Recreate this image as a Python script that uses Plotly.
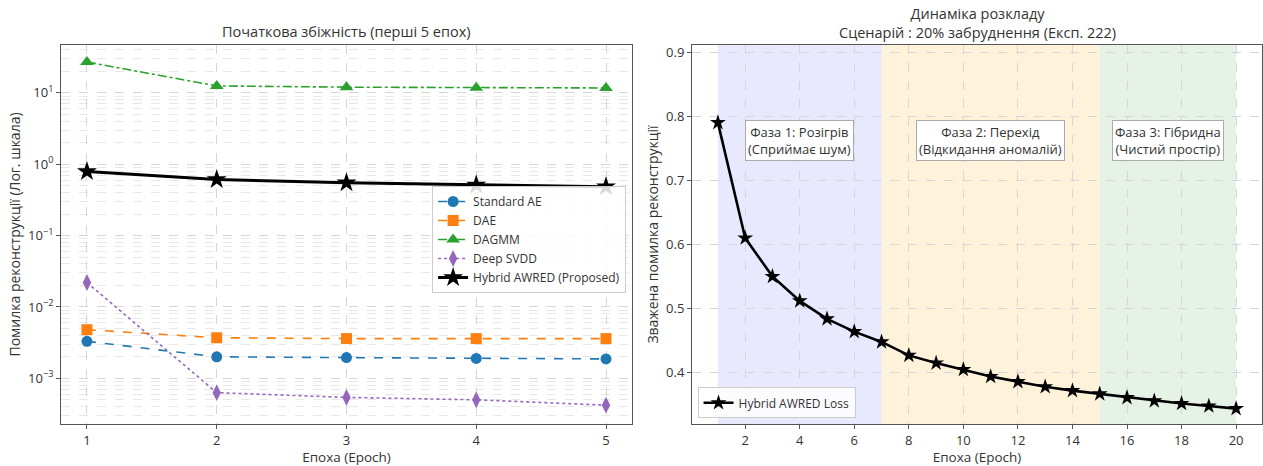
import plotly.graph_objects as go

# ---------- data ----------
epochs_short = [1, 2, 3, 4, 5]
standard_ae = [0.0033, 0.00200, 0.00195, 0.00190, 0.00187]
dae = [0.0048, 0.0037, 0.0036, 0.0036, 0.0036]
dagmm = [27.0, 12.5, 12.0, 11.8, 11.7]
deep_svdd = [0.022, 0.00063, 0.00054, 0.00050, 0.00042]
hybrid_short = [0.79, 0.61, 0.55, 0.512, 0.485]

epochs_long = list(range(1, 21))
hybrid_loss = [0.790, 0.610, 0.550, 0.512, 0.484, 0.464, 0.448, 0.427, 0.415, 0.405,
               0.394, 0.386, 0.378, 0.372, 0.367, 0.361, 0.356, 0.352, 0.348, 0.344]

phase_bounds = [(1, 7), (7, 15), (15, 20)]
phase_colors = ["rgba(0,0,255,0.09)", "rgba(255,165,0,0.14)", "rgba(0,128,0,0.10)"]
phase_labels = ["Фаза 1: Розігрів<br>(Сприймає шум)",
                "Фаза 2: Перехід<br>(Відкидання аномалій)",
                "Фаза 3: Гібридна<br>(Чистий простір)"]
phase_label_x = [4, 11, 17.5]
phase_label_y = 0.762

log_tickvals = [1e-3, 1e-2, 1e-1, 1, 10]
log_ticktext = ["10<sup>−3</sup>", "10<sup>−2</sup>", "10<sup>−1</sup>", "10<sup>0</sup>", "10<sup>1</sup>"]

FONT = "Open Sans"
TXT = "#333333"

fig = go.Figure()

# ---------- left chart ----------
fig.add_trace(go.Scatter(x=epochs_short, y=standard_ae, name="Standard AE", mode="lines+markers",
                         line=dict(color="#1f77b4", dash="dash", width=1.6),
                         marker=dict(symbol="circle", size=11, color="#1f77b4"),
                         xaxis="x", yaxis="y", legend="legend"))
fig.add_trace(go.Scatter(x=epochs_short, y=dae, name="DAE", mode="lines+markers",
                         line=dict(color="#ff7f0e", dash="dash", width=1.6),
                         marker=dict(symbol="square", size=11, color="#ff7f0e"),
                         xaxis="x", yaxis="y", legend="legend"))
fig.add_trace(go.Scatter(x=epochs_short, y=dagmm, name="DAGMM", mode="lines+markers",
                         line=dict(color="#2ca02c", dash="dashdot", width=1.6),
                         marker=dict(symbol="triangle-up", size=12, color="#2ca02c"),
                         xaxis="x", yaxis="y", legend="legend"))
fig.add_trace(go.Scatter(x=epochs_short, y=deep_svdd, name="Deep SVDD", mode="lines+markers",
                         line=dict(color="#9467bd", dash="dot", width=1.6),
                         marker=dict(symbol="diamond-tall", size=12, color="#9467bd"),
                         xaxis="x", yaxis="y", legend="legend"))
fig.add_trace(go.Scatter(x=epochs_short, y=hybrid_short, name="Hybrid AWRED (Proposed)", mode="lines+markers",
                         line=dict(color="black", width=3),
                         marker=dict(symbol="star", size=15, color="black"),
                         xaxis="x", yaxis="y", legend="legend"))

# ---------- right chart ----------
fig.add_trace(go.Scatter(x=epochs_long, y=hybrid_loss, name="Hybrid AWRED Loss", mode="lines+markers",
                         line=dict(color="black", width=2.6),
                         marker=dict(symbol="star", size=12, color="black"),
                         xaxis="x2", yaxis="y2", legend="legend2"))

for (x0, x1), col in zip(phase_bounds, phase_colors):
    fig.add_shape(type="rect", xref="x2", yref="y2 domain", x0=x0, x1=x1, y0=0, y1=1,
                  fillcolor=col, line=dict(width=0), layer="below")

for lab, px in zip(phase_labels, phase_label_x):
    fig.add_annotation(x=px, y=phase_label_y, xref="x2", yref="y2", text=lab, showarrow=False,
                       xanchor="center", yanchor="middle",
                       font=dict(family=FONT, size=13, color=TXT), align="center",
                       bgcolor="white", bordercolor="#aaaaaa", borderwidth=1, borderpad=2)

# titles
fig.add_annotation(x=0.2377, y=1.0, xref="paper", yref="paper", xanchor="center", yanchor="bottom", yshift=2,
                   text="Початкова збіжність (перші 5 епох)", showarrow=False,
                   font=dict(family=FONT, size=14.5, color=TXT))
fig.add_annotation(x=0.7627, y=1.0, xref="paper", yref="paper", xanchor="center", yanchor="bottom", yshift=1,
                   text="Динаміка розкладу<br>Сценарій : 20% забруднення (Експ. 222)", showarrow=False,
                   font=dict(family=FONT, size=14.5, color=TXT))

grid = "#d6d6d6"
axis_common = dict(showline=True, linecolor="#555555", linewidth=1, mirror=True,
                   ticks="outside", ticklen=4, tickcolor="#555555",
                   showgrid=True, gridcolor=grid, griddash="dash", gridwidth=1,
                   zeroline=False, tickfont=dict(family=FONT, size=13, color=TXT))

fig.update_layout(
    width=1263, height=466,
    margin=dict(l=61, r=1, t=45, b=42),
    paper_bgcolor="white", plot_bgcolor="white",
    font=dict(family=FONT, size=13, color=TXT),
    xaxis=dict(domain=[0, 0.4754], range=[0.8, 5.2], tickvals=epochs_short, anchor="y",
               title=dict(text="Епоха (Epoch)", font=dict(family=FONT, size=13.5, color=TXT), standoff=4),
               **axis_common),
    yaxis=dict(type="log", range=[-3.64, 1.67], tickvals=log_tickvals, ticktext=log_ticktext, anchor="x",
               title=dict(text="Помилка реконструкції (Лог. шкала)", font=dict(family=FONT, size=14, color=TXT), standoff=4),
               minor=dict(dtick="D1", showgrid=True, gridcolor="#e8e8e8", griddash="dash", gridwidth=1),
               **axis_common),
    xaxis2=dict(domain=[0.5254, 1.0], range=[0.05, 20.95], dtick=2, tick0=0, anchor="y2",
                title=dict(text="Епоха (Epoch)", font=dict(family=FONT, size=13.5, color=TXT), standoff=4),
                **axis_common),
    yaxis2=dict(range=[0.32, 0.911], dtick=0.1, tick0=0, tickformat=".1f", anchor="x2",
                title=dict(text="Зважена помилка реконструкції", font=dict(family=FONT, size=14, color=TXT), standoff=4),
                **axis_common),
    legend=dict(x=0.309, y=0.628, xanchor="left", yanchor="top", bgcolor="rgba(255,255,255,0.85)",
                bordercolor="#cccccc", borderwidth=1, font=dict(family=FONT, size=12, color=TXT),
                itemwidth=30, tracegroupgap=0),
    legend2=dict(x=0.530, y=0.015, xanchor="left", yanchor="bottom", bgcolor="rgba(255,255,255,0.85)",
                 bordercolor="#cccccc", borderwidth=1, font=dict(family=FONT, size=12, color=TXT),
                 itemwidth=30),
    showlegend=True,
)

fig.write_html("out.html")
